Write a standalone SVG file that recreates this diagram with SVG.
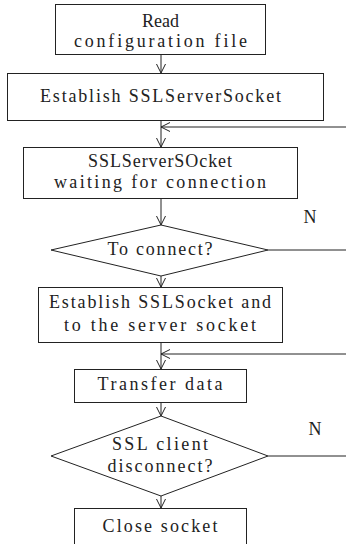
<svg xmlns="http://www.w3.org/2000/svg" width="346" height="544" viewBox="0 0 346 544">
<style>
.n{fill:#fff;stroke:#222;stroke-width:1}
.t{font-family:"Liberation Serif","DejaVu Serif",serif;font-size:18px;fill:#222;text-anchor:middle}
.c{fill:none;stroke:#222;stroke-width:1}
</style>
<defs>
<marker id="a" viewBox="0 0 10 10" refX="10" refY="5" markerWidth="10" markerHeight="10" markerUnits="userSpaceOnUse" orient="auto">
<path d="M1,0.5 L10,5 L1,9.5" fill="none" stroke="#222" stroke-width="1"/>
</marker>
</defs>
<rect width="346" height="544" fill="#fff"/>
<g id="connectors">
<line class="c" x1="161" y1="54" x2="161" y2="73" marker-end="url(#a)"/>
<line class="c" x1="161" y1="120" x2="161" y2="147" marker-end="url(#a)"/>
<line class="c" x1="346" y1="127" x2="161" y2="127" marker-end="url(#a)"/>
<line class="c" x1="161" y1="198" x2="161" y2="225" marker-end="url(#a)"/>
<line class="c" x1="268" y1="250" x2="346" y2="250"/>
<line class="c" x1="161" y1="276" x2="161" y2="287" marker-end="url(#a)"/>
<line class="c" x1="161" y1="342" x2="161" y2="369" marker-end="url(#a)"/>
<line class="c" x1="346" y1="354" x2="161" y2="354" marker-end="url(#a)"/>
<line class="c" x1="161" y1="402" x2="161" y2="416" marker-end="url(#a)"/>
<line class="c" x1="268" y1="456" x2="346" y2="456"/>
<line class="c" x1="161" y1="496" x2="161" y2="508" marker-end="url(#a)"/>
</g>
<g id="read">
<rect class="n" x="55.5" y="4.5" width="210" height="50"/>
<text class="t" x="160.5" y="27" textLength="37" lengthAdjust="spacing">Read</text>
<text class="t" x="160.5" y="47" textLength="173" lengthAdjust="spacing">configuration file</text>
</g>
<g id="establish-server">
<rect class="n" x="7.5" y="73.5" width="316" height="47"/>
<text class="t" x="160.5" y="102" textLength="241" lengthAdjust="spacing">Establish SSLServerSocket</text>
</g>
<g id="waiting">
<rect class="n" x="23.5" y="147.5" width="274" height="51"/>
<text class="t" x="160" y="167" textLength="144" lengthAdjust="spacing">SSLServerSOcket</text>
<text class="t" x="160" y="188" textLength="212" lengthAdjust="spacing">waiting for connection</text>
</g>
<g id="to-connect">
<polygon class="n" points="161,225 268,250 161,276 51,250"/>
<text class="t" x="160" y="255" textLength="105" lengthAdjust="spacing">To connect?</text>
</g>
<g id="establish-socket">
<rect class="n" x="38.5" y="287.5" width="244" height="55"/>
<text class="t" x="160" y="308" textLength="222" lengthAdjust="spacing">Establish SSLSocket and</text>
<text class="t" x="160" y="331" textLength="192" lengthAdjust="spacing">to the server socket</text>
</g>
<g id="transfer">
<rect class="n" x="74.5" y="369.5" width="172" height="33"/>
<text class="t" x="160" y="390" textLength="125" lengthAdjust="spacing">Transfer data</text>
</g>
<g id="disconnect">
<polygon class="n" points="161,416 268,456 161,496 51,456"/>
<text class="t" x="160" y="450" textLength="96" lengthAdjust="spacing">SSL client</text>
<text class="t" x="160" y="472" textLength="105" lengthAdjust="spacing">disconnect?</text>
</g>
<g id="close">
<rect class="n" x="74.5" y="508.5" width="172" height="45"/>
<text class="t" x="160" y="532" textLength="115" lengthAdjust="spacing">Close socket</text>
</g>
<g id="labels">
<text class="t" x="310" y="223">N</text>
<text class="t" x="315" y="435">N</text>
</g>
</svg>
